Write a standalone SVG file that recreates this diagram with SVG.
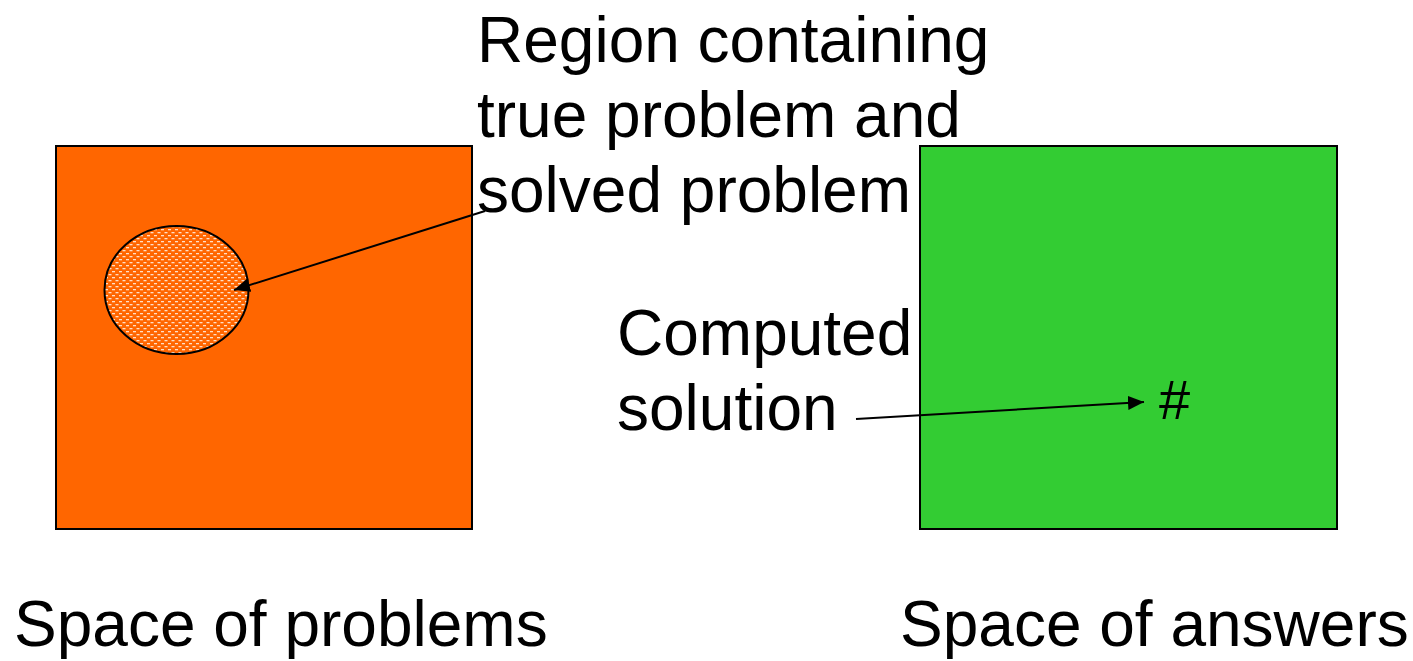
<svg xmlns="http://www.w3.org/2000/svg" width="1413" height="661" viewBox="0 0 1413 661">
<defs>
<style>
.t{font-family:"Liberation Sans",Arial,sans-serif;font-size:64px;fill:#000}
.box{stroke:#000;stroke-width:2}
.conn{stroke:#000;stroke-width:2;fill:none}
</style>
<pattern id="dots" x="0" y="0" width="7" height="6" patternUnits="userSpaceOnUse">
<rect width="7" height="6" fill="#ff6600"/>
<rect x="0" y="1" width="3" height="1.3" fill="#ffe0c8"/>
<rect x="3.5" y="4" width="3" height="1.3" fill="#ffe0c8"/>
</pattern>
<marker id="ah" viewBox="0 0 16 14" refX="16" refY="7" markerWidth="16" markerHeight="14" markerUnits="userSpaceOnUse" orient="auto">
<path d="M0,0 L16,7 L0,14 z" fill="#000"/>
</marker>
</defs>
<rect width="1413" height="661" fill="#fff"/>
<g id="problems">
<rect class="box" x="56" y="146" width="416" height="383" fill="#ff6600"/>
<text class="t" x="14" y="646">Space of problems</text>
</g>
<g id="region">
<ellipse cx="176.5" cy="290" rx="72" ry="64" fill="url(#dots)" stroke="#000" stroke-width="2"/>
</g>
<g id="answers">
<rect class="box" x="920" y="146" width="417" height="383" fill="#33cc33"/>
<text class="t" x="900" y="646">Space of answers</text>
</g>
<g id="hash">
<text x="1159" y="419" style="font-family:'Liberation Sans',Arial,sans-serif;font-size:56px">#</text>
</g>
<g id="label-region">
<text class="t" x="477" y="62">Region containing</text>
<text class="t" x="477" y="137">true problem and</text>
<text class="t" x="477" y="212">solved problem</text>
</g>
<g id="label-computed">
<text class="t" x="617" y="355">Computed</text>
<text class="t" x="617" y="430">solution</text>
</g>
<g id="connectors">
<line class="conn" x1="485" y1="211" x2="234" y2="290" marker-end="url(#ah)"/>
<line class="conn" x1="856" y1="419" x2="1144" y2="402" marker-end="url(#ah)"/>
</g>
</svg>
